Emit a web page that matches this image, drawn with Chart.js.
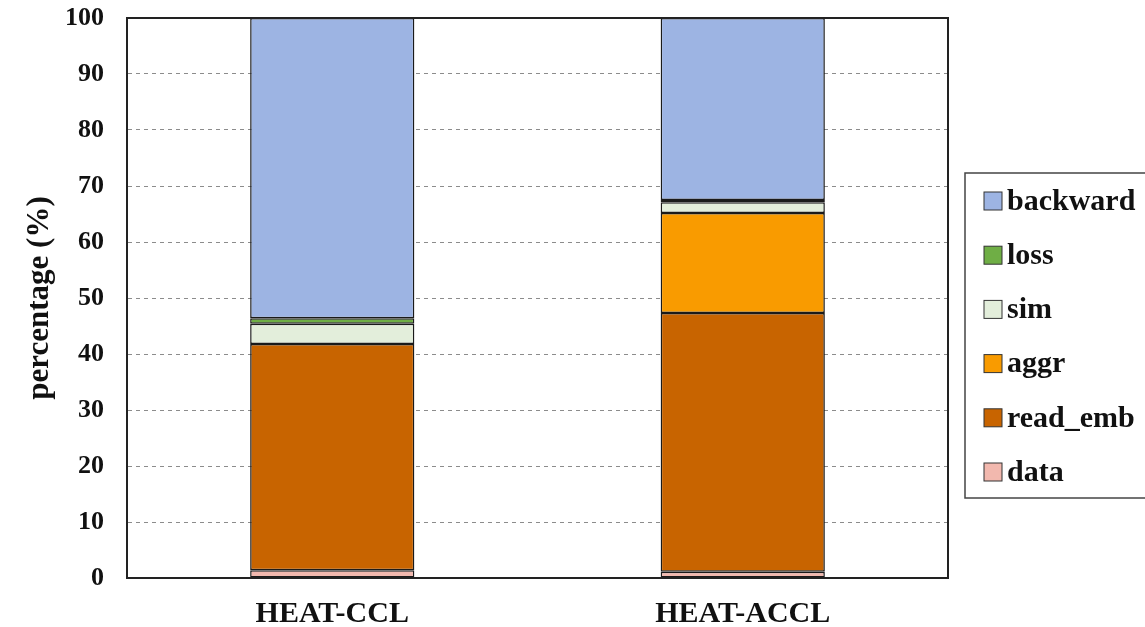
<!DOCTYPE html>
<html>
<head>
<meta charset="utf-8">
<script src="https://cdn.jsdelivr.net/npm/chart.js@4/dist/chart.umd.min.js"></script>
<style>
  html, body { margin: 0; padding: 0; background: #fff; }
  #wrap { width: 1145px; height: 627px; position: relative; }
</style>
</head>
<body>
<div id="wrap"><canvas id="myChart" width="1145" height="627"></canvas></div>
<script>
// categories and stacked series (percent of time)
const categories = ['HEAT-CCL', 'HEAT-ACCL'];
const dataPart    = [1.4, 1.1];
const readEmb     = [40.4, 46.2];
const aggr        = [0, 17.9];
const sim         = [3.6, 1.9];
const loss        = [1.0, 0.4];
const backward    = [53.6, 32.5];
const yTicks = [0, 10, 20, 30, 40, 50, 60, 70, 80, 90, 100];

const serif = '"Liberation Serif", "Times New Roman", serif';

// frame around plot area + legend box on the right
const framePlugin = {
    id: 'frame',
    afterDraw(chart) {
        const ctx = chart.ctx;
        const a = chart.chartArea;
        ctx.save();
        ctx.setLineDash([]);
        ctx.strokeStyle = '#222';
        ctx.lineWidth = 2;
        ctx.strokeRect(a.left, a.top, a.right - a.left, a.bottom - a.top);

        // legend (reversed order, backward at top)
        const boxX = 965, boxY = 173, boxW = 200, boxH = 325;
        ctx.lineWidth = 1.5;
        ctx.strokeStyle = '#444';
        ctx.fillStyle = '#fff';
        ctx.fillRect(boxX, boxY, boxW, boxH);
        ctx.strokeRect(boxX, boxY, boxW, boxH);
        const sets = chart.data.datasets.slice().reverse();
        ctx.font = 'bold 30px ' + serif;
        ctx.textBaseline = 'middle';
        sets.forEach((ds, i) => {
            const cy = 201 + i * 54.2;
            ctx.fillStyle = ds.backgroundColor;
            ctx.fillRect(984, cy - 9, 18, 18);
            ctx.strokeStyle = '#333';
            ctx.lineWidth = 1;
            ctx.strokeRect(984, cy - 9, 18, 18);
            ctx.fillStyle = '#111';
            ctx.fillText(ds.label, 1007, cy + 1);
        });
        ctx.restore();
    }
};

function seg(label, values, color) {
    return {
        label: label,
        data: values,
        backgroundColor: color,
        borderColor: '#1a1a1a',
        borderWidth: 1.5,
        borderSkipped: false,
        barPercentage: 0.4,
        categoryPercentage: 1.0
    };
}

const myChart = document.getElementById('myChart');

let barChart = new Chart(myChart, {
    type: 'bar',
    data: {
        labels: categories,
        datasets: [
            seg('data', dataPart, '#f2b8ae'),
            seg('read_emb', readEmb, '#c86400'),
            seg('aggr', aggr, '#f99b00'),
            seg('sim', sim, '#e3eedb'),
            seg('loss', loss, '#6fae45'),
            seg('backward', backward, '#9db4e3')
        ]
    },
    options: {
        responsive: false,
        animation: false,
        layout: { padding: { left: 0, right: 197, top: 18, bottom: 0 } },
        plugins: {
            legend: { display: false },
            tooltip: { enabled: false }
        },
        scales: {
            x: {
                stacked: true,
                grid: { display: false },
                border: { display: true, color: '#222', width: 2 },
                ticks: {
                    color: '#111',
                    padding: 10,
                    font: { family: serif, size: 30, weight: 'bold' }
                },
                afterFit: scale => { scale.height = 49; }
            },
            y: {
                stacked: true,
                min: 0,
                max: 100,
                afterBuildTicks: scale => {
                    scale.ticks = yTicks.map(v => ({ value: v }));
                },
                grid: {
                    color: ctx => (ctx.tick.value === 0 || ctx.tick.value === 100) ? 'rgba(0,0,0,0)' : '#8c8c8c',
                    drawTicks: false,
                    lineWidth: 1
                },
                border: { display: true, color: '#222', width: 2, dash: [4, 4] },
                ticks: {
                    color: '#111',
                    padding: 23,
                    font: { family: serif, size: 26, weight: 'bold' }
                },
                title: {
                    display: true,
                    text: 'percentage (%)',
                    color: '#111',
                    padding: { top: 21, bottom: 0 },
                    font: { family: serif, size: 31, weight: 'bold' }
                },
                afterFit: scale => {
                    scale.width = 127;
                    scale.paddingTop = 0;
                    scale.paddingBottom = 0;
                }
            }
        }
    },
    plugins: [framePlugin]
});
</script>
</body>
</html>
